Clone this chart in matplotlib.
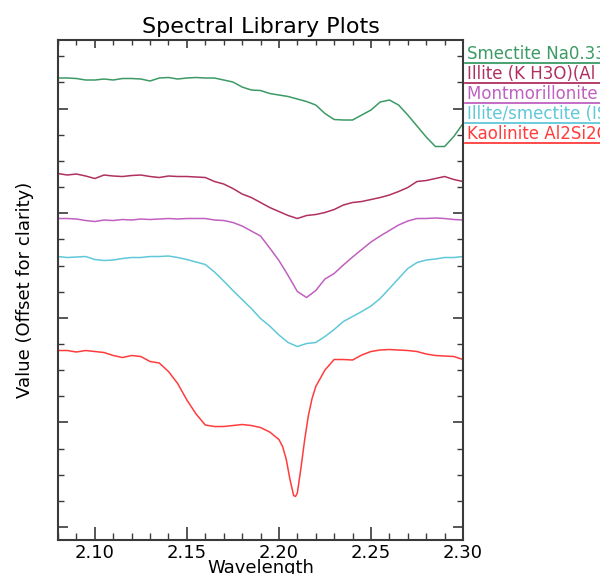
import numpy as np
import matplotlib
matplotlib.use("Agg")
import matplotlib.pyplot as plt
from matplotlib.ticker import MultipleLocator, FixedLocator

# common wavelength grid (um)
wl = [2.080, 2.085, 2.090, 2.095, 2.100, 2.105, 2.110, 2.115, 2.120, 2.125,
      2.130, 2.135, 2.140, 2.145, 2.150, 2.155, 2.160, 2.165, 2.170, 2.175,
      2.180, 2.185, 2.190, 2.195, 2.200, 2.205, 2.210, 2.215, 2.220, 2.225,
      2.230, 2.235, 2.240, 2.245, 2.250, 2.255, 2.260, 2.265, 2.270, 2.275,
      2.280, 2.285, 2.290, 2.295, 2.300]

smectite = [0.924, 0.924, 0.923, 0.920, 0.920, 0.922, 0.920, 0.923, 0.923, 0.922,
            0.918, 0.924, 0.925, 0.922, 0.924, 0.925, 0.924, 0.924, 0.920, 0.916,
            0.906, 0.900, 0.899, 0.893, 0.890, 0.887, 0.882, 0.877, 0.870, 0.853,
            0.841, 0.840, 0.840, 0.850, 0.860, 0.876, 0.880, 0.870, 0.850, 0.828,
            0.806, 0.787, 0.787, 0.807, 0.833]

illite = [0.733, 0.730, 0.732, 0.728, 0.723, 0.730, 0.728, 0.727, 0.729, 0.730,
          0.727, 0.725, 0.728, 0.727, 0.727, 0.726, 0.725, 0.717, 0.712, 0.703,
          0.692, 0.685, 0.675, 0.665, 0.657, 0.649, 0.643, 0.649, 0.651, 0.655,
          0.661, 0.670, 0.675, 0.677, 0.681, 0.685, 0.690, 0.697, 0.705, 0.717,
          0.719, 0.723, 0.727, 0.721, 0.717]

montmorillonite = [0.643, 0.643, 0.642, 0.639, 0.637, 0.640, 0.639, 0.641, 0.640, 0.642,
                   0.641, 0.642, 0.643, 0.642, 0.643, 0.643, 0.643, 0.640, 0.639, 0.635,
                   0.628, 0.618, 0.608, 0.584, 0.559, 0.529, 0.497, 0.485, 0.499, 0.522,
                   0.533, 0.550, 0.566, 0.581, 0.596, 0.608, 0.619, 0.630, 0.638, 0.643,
                   0.643, 0.644, 0.643, 0.641, 0.640]

illite_smectite = [0.567, 0.565, 0.566, 0.567, 0.561, 0.559, 0.560, 0.563, 0.565, 0.565,
                   0.567, 0.567, 0.568, 0.565, 0.561, 0.556, 0.551, 0.536, 0.518, 0.499,
                   0.481, 0.463, 0.443, 0.428, 0.410, 0.395, 0.387, 0.393, 0.395, 0.407,
                   0.421, 0.437, 0.447, 0.457, 0.468, 0.483, 0.503, 0.523, 0.543, 0.555,
                   0.560, 0.562, 0.565, 0.565, 0.567]

# kaolinite needs a finer grid around the 2.21 um doublet
wl_kaol = [2.080, 2.085, 2.090, 2.095, 2.100, 2.105, 2.110, 2.115, 2.120, 2.125,
           2.130, 2.135, 2.140, 2.145, 2.150, 2.155, 2.160, 2.165, 2.170, 2.175,
           2.180, 2.185, 2.190, 2.195, 2.200, 2.202, 2.204, 2.206, 2.208, 2.209,
           2.210, 2.212, 2.214, 2.216, 2.218, 2.220, 2.225, 2.230, 2.235, 2.240,
           2.245, 2.250, 2.255, 2.260, 2.265, 2.270, 2.275, 2.280, 2.285, 2.290,
           2.295, 2.300]
kaolinite = [0.379, 0.379, 0.376, 0.379, 0.377, 0.375, 0.369, 0.365, 0.369, 0.367,
             0.357, 0.354, 0.337, 0.313, 0.280, 0.252, 0.230, 0.227, 0.227, 0.229,
             0.231, 0.229, 0.225, 0.216, 0.201, 0.187, 0.161, 0.121, 0.089, 0.087,
             0.094, 0.145, 0.201, 0.249, 0.283, 0.307, 0.340, 0.361, 0.361, 0.360,
             0.370, 0.377, 0.380, 0.381, 0.380, 0.379, 0.377, 0.372, 0.369, 0.368,
             0.367, 0.361]

names = ["Smectite Na0.33(Al,Mg)2Si4O10(OH)2",
         "Illite (K H3O)(Al Mg Fe)2(Si Al)4O10",
         "Montmorillonite (Na,Ca)0.33(Al,Mg)2",
         "Illite/smectite (ISR1 Ca-Ill/Smec)",
         "Kaolinite Al2Si2O5(OH)4"]
colors = ["#3c9a64", "#b03060", "#c060c0", "#60c8d8", "#ff3c3c"]

fig = plt.figure(figsize=(6.0, 5.74), dpi=100)
ax = fig.add_axes([0.0967, 0.0592, 0.675, 0.8711])

series = [(wl, smectite), (wl, illite), (wl, montmorillonite),
          (wl, illite_smectite), (wl_kaol, kaolinite)]
for (x, y), c in zip(series, colors):
    ax.plot(x, y, color=c, lw=1.1)

ax.set_xlim(2.08, 2.30)
ax.set_ylim(0.0, 1.0)
ax.set_xticks([2.10, 2.15, 2.20, 2.25, 2.30])
ax.set_xticklabels(["2.10", "2.15", "2.20", "2.25", "2.30"])
ax.xaxis.set_minor_locator(MultipleLocator(0.01))

# unlabeled value ticks, every fourth one long
yt = [0.026 + 0.0523 * k for k in range(19)]
ax.yaxis.set_major_locator(FixedLocator(yt[::4]))
ax.yaxis.set_minor_locator(FixedLocator(yt))
ax.set_yticklabels([])

spine_c = "#3a3a3a"
for s in ax.spines.values():
    s.set_color(spine_c)
    s.set_linewidth(1.5)

ax.tick_params(axis="x", which="major", direction="in", length=9.5, width=1.2,
               color=spine_c, labelsize=13, pad=3)
ax.tick_params(axis="x", which="minor", direction="in", length=5, width=1.0, color=spine_c)
ax.tick_params(axis="y", which="major", direction="in", length=7, width=1.2,
               color=spine_c, right=True)
ax.tick_params(axis="y", which="minor", direction="in", length=4, width=1.0,
               color=spine_c, right=True)

top = ax.secondary_xaxis("top")
top.set_xticks([2.10, 2.15, 2.20, 2.25, 2.30])
top.xaxis.set_minor_locator(MultipleLocator(0.01))
top.set_xticklabels([])
top.tick_params(which="major", direction="in", length=5.5, width=1.2, color=spine_c)
top.tick_params(which="minor", direction="in", length=3.5, width=1.0, color=spine_c)
top.spines["top"].set_visible(False)

ax.set_title("Spectral Library Plots", fontsize=16, pad=5)
ax.set_xlabel("Wavelength", fontsize=13, labelpad=-2.5)
ax.set_ylabel("Value (Offset for clarity)", fontsize=13, labelpad=14)

# legend entries drawn as underlined coloured text at the right edge
for i, (name, c) in enumerate(zip(names, colors)):
    yy = 0.897 - i * 0.0350
    fig.text(0.7783, yy, name, color=c, fontsize=12, ha="left", va="baseline")
    fig.add_artist(plt.Line2D([0.775, 1.0], [yy - 0.0065, yy - 0.0065],
                              transform=fig.transFigure, color=c, lw=1.3))

fig.savefig("out.png", dpi=100)
